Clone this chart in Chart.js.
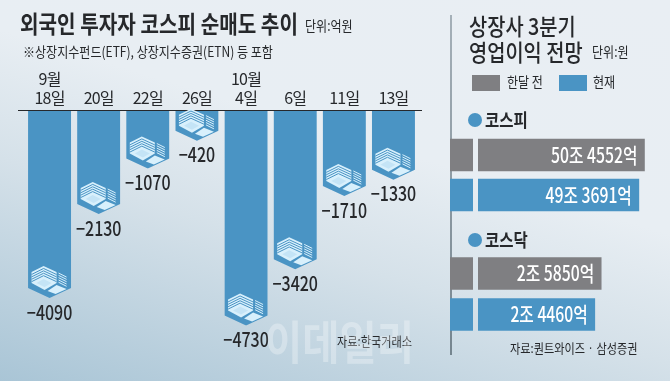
<!DOCTYPE html>
<html>
<head>
<meta charset="utf-8">
<script src="https://cdn.jsdelivr.net/npm/chart.js@4/dist/chart.umd.min.js"></script>
<style>
  html, body { margin: 0; padding: 0; }
  body {
    width: 670px; height: 381px; overflow: hidden; position: relative;
    background: linear-gradient(197deg, #e9eef3 0%, #e8eef3 40%, #d5e1e9 62%, #a9c5d6 100%);
  }
  canvas { position: absolute; }
</style>
</head>
<body>
<canvas id="flowChart" width="670" height="381" style="left:0;top:0"></canvas>
<canvas id="kospiChart" width="220" height="80" style="left:450px;top:135px"></canvas>
<canvas id="kosdaqChart" width="220" height="82" style="left:450px;top:253px"></canvas>
<script>
const dates = [['9월', '18일'], '20일', '22일', '26일', ['10월', '4일'], '6일', '11일', '13일'];
const netSales = [-4090, -2130, -1070, -420, -4730, -3420, -1710, -1330];

const periods = ['한달 전', '현재'];
const kospiProfit = [504552, 493691];   // 억원
const kosdaqProfit = [25850, 24460];

const BLUE = '#4a94c4';
const GREY = '#7f7f82';
const INK = '#26282b';
const KR = '"Noto Sans CJK KR"';

// squeezed text, the reference uses a condensed face
function label(ctx, text, x, y, size, opts = {}) {
    const squeeze = opts.squeeze || 0.86;
    ctx.save();
    ctx.font = `${opts.weight || 400} ${size}px ${KR}`;
    ctx.fillStyle = opts.color || INK;
    ctx.textBaseline = 'middle';
    ctx.textAlign = opts.align || 'left';
    ctx.translate(x, y);
    ctx.scale(squeeze, 1);
    ctx.fillText(text, 0, 0);
    ctx.restore();
}

function tipPath(ctx, bar, tip) {
    const half = bar.width / 2;
    ctx.moveTo(bar.x - half, bar.base);
    ctx.lineTo(bar.x + half, bar.base);
    ctx.lineTo(bar.x + half, bar.y - tip);
    ctx.lineTo(bar.x, bar.y);
    ctx.lineTo(bar.x - half, bar.y - tip);
    ctx.closePath();
}

function poly(ctx, pts) {
    ctx.beginPath();
    pts.forEach((p, i) => i ? ctx.lineTo(p[0], p[1]) : ctx.moveTo(p[0], p[1]));
    ctx.closePath();
    ctx.fill();
}

// stacked-building mark, origin is the tip of the bar
function buildingIcon(ctx, x, y) {
    const light = '#d8f0fc';
    ctx.save();
    ctx.translate(x, y);
    ctx.fillStyle = light;
    poly(ctx, [[-6, -32], [-18, -26], [-18, -15], [-5, -8], [7, -15], [7, -26]]);
    ctx.strokeStyle = BLUE;
    ctx.lineWidth = 1;
    for (let i = 1; i < 5; i++) {
        ctx.beginPath();
        ctx.moveTo(-18, -26 + i * 2.4);
        ctx.lineTo(-6, -32 + i * 2.4);
        ctx.lineTo(7, -26 + i * 2.4);
        ctx.stroke();
    }
    // base plate of the big block
    ctx.fillStyle = '#c4e4f6';
    poly(ctx, [[-13, -15], [-6, -19], [2, -15], [-5, -11]]);
    // small block
    ctx.fillStyle = light;
    poly(ctx, [[-2, -7], [7, -13], [17, -9], [6, -4]]);
    // side slats
    ctx.strokeStyle = light;
    for (let i = 0; i < 5; i++) {
        ctx.beginPath();
        ctx.moveTo(9, -25 + i * 2.3);
        ctx.lineTo(17, -21 + i * 2.3);
        ctx.stroke();
    }
    ctx.restore();
}

const flowPlugin = {
    id: 'flowPlugin',
    beforeDraw(chart) {
        chart.ctx.letterSpacing = '-0.8px';
    },
    beforeDatasetDraw(chart) {
        const ctx = chart.ctx;
        ctx.letterSpacing = '0px';
        ctx.save();
        ctx.beginPath();
        chart.getDatasetMeta(0).data.forEach(bar => tipPath(ctx, bar, 10));
        ctx.clip();
    },
    afterDatasetDraw(chart) {
        chart.ctx.restore();
    },
    afterDraw(chart) {
        const ctx = chart.ctx;
        const area = chart.chartArea;
        ctx.strokeStyle = INK;
        ctx.lineWidth = 1;
        ctx.beginPath();
        ctx.moveTo(18, area.top + 0.5);
        ctx.lineTo(422, area.top + 0.5);
        ctx.stroke();

        chart.getDatasetMeta(0).data.forEach((bar, i) => {
            buildingIcon(ctx, bar.x, bar.y);
            label(ctx, '−' + Math.abs(netSales[i]), bar.x, bar.y + 14, 20, { align: 'center', weight: 500, squeeze: 0.8 });
        });

        label(ctx, '외국인 투자자 코스피 순매도 추이', 20, 24, 24, { weight: 700, squeeze: 0.84 });
        label(ctx, '단위:억원', 305, 26, 14);
        label(ctx, '※상장지수펀드(ETF), 상장지수증권(ETN) 등 포함', 23, 52, 14);
        label(ctx, '자료:한국거래소', 337, 341, 13);

        // right panel heading
        const rule = ctx.createLinearGradient(0, 15, 0, 355);
        rule.addColorStop(0, '#a5b0b8');
        rule.addColorStop(1, '#75858f');
        ctx.fillStyle = rule;
        ctx.fillRect(450, 15, 2, 340);

        label(ctx, '상장사 3분기', 469, 26, 23, { weight: 500 });
        label(ctx, '영업이익 전망', 469, 52, 23, { weight: 500 });
        label(ctx, '단위:원', 592, 52, 14);

        ctx.fillStyle = GREY;
        ctx.fillRect(472, 75, 28, 16);
        label(ctx, periods[0], 507, 82, 14);
        ctx.fillStyle = BLUE;
        ctx.fillRect(559, 75, 28, 16);
        label(ctx, periods[1], 593, 82, 14);

        [['코스피', 120], ['코스닥', 240]].forEach(([name, y]) => {
            ctx.fillStyle = BLUE;
            ctx.beginPath();
            ctx.arc(475, y, 7, 0, Math.PI * 2);
            ctx.fill();
            label(ctx, name, 485, y, 18, { weight: 700 });
        });

        label(ctx, '자료:퀀트와이즈 · 삼성증권', 510, 348, 13);
        label(ctx, '이데일리', 265, 342, 46, { weight: 700, color: 'rgba(255,255,255,0.3)', squeeze: 0.88 });
    }
};

new Chart(document.getElementById('flowChart'), {
    type: 'bar',
    data: {
        labels: dates,
        datasets: [{
            data: netSales,
            base: 294,
            backgroundColor: BLUE,
            barThickness: 43,
            borderWidth: 0
        }]
    },
    options: {
        responsive: false,
        animation: false,
        layout: { padding: { left: 25, right: 252, top: 70, bottom: 0 } },
        plugins: { legend: { display: false }, tooltip: { enabled: false } },
        scales: {
            x: {
                position: 'top',
                grid: { display: false, drawTicks: false },
                border: { display: false },
                afterFit(scale) { scale.height = 40; },
                ticks: {
                    color: INK,
                    font: { family: KR, size: 16 },
                    padding: 2,
                    maxRotation: 0,
                    autoSkip: false
                }
            },
            y: { display: false, min: -6023, max: 294 }
        }
    },
    plugins: [flowPlugin]
});

function profitText(v) {
    return Math.floor(v / 10000) + '조 ' + (v % 10000) + '억';
}

const breakPlugin = {
    id: 'breakPlugin',
    beforeDatasetDraw(chart) {
        const ctx = chart.ctx;
        const area = chart.chartArea;
        ctx.save();
        ctx.beginPath();
        ctx.rect(area.left, 0, 23, chart.height);
        ctx.rect(area.left + 28, 0, area.width, chart.height);
        ctx.clip();
    },
    afterDatasetDraw(chart) {
        chart.ctx.restore();
    },
    afterDatasetsDraw(chart) {
        const values = chart.data.datasets[0].data;
        chart.getDatasetMeta(0).data.forEach((bar, i) => {
            label(chart.ctx, profitText(values[i]), bar.x - 7, bar.y, 21, { align: 'right', color: '#fff', weight: 500, squeeze: 0.75 });
        });
    }
};

// the axis is broken in the reference, so each group has its own start
function profitChart(id, values, min, max) {
    new Chart(document.getElementById(id), {
        type: 'bar',
        data: {
            labels: periods,
            datasets: [{
                data: values,
                base: min,
                backgroundColor: [GREY, BLUE],
                barThickness: 32,
                borderWidth: 0
            }]
        },
        options: {
            indexAxis: 'y',
            responsive: false,
            animation: false,
            plugins: { legend: { display: false }, tooltip: { enabled: false } },
            scales: {
                x: { display: false, min: min, max: max },
                y: { display: false }
            }
        },
        plugins: [breakPlugin]
    });
}

profitChart('kospiChart', kospiProfit, 128000, 554000);
profitChart('kosdaqChart', kosdaqProfit, -7000, 40800);
</script>
</body>
</html>
